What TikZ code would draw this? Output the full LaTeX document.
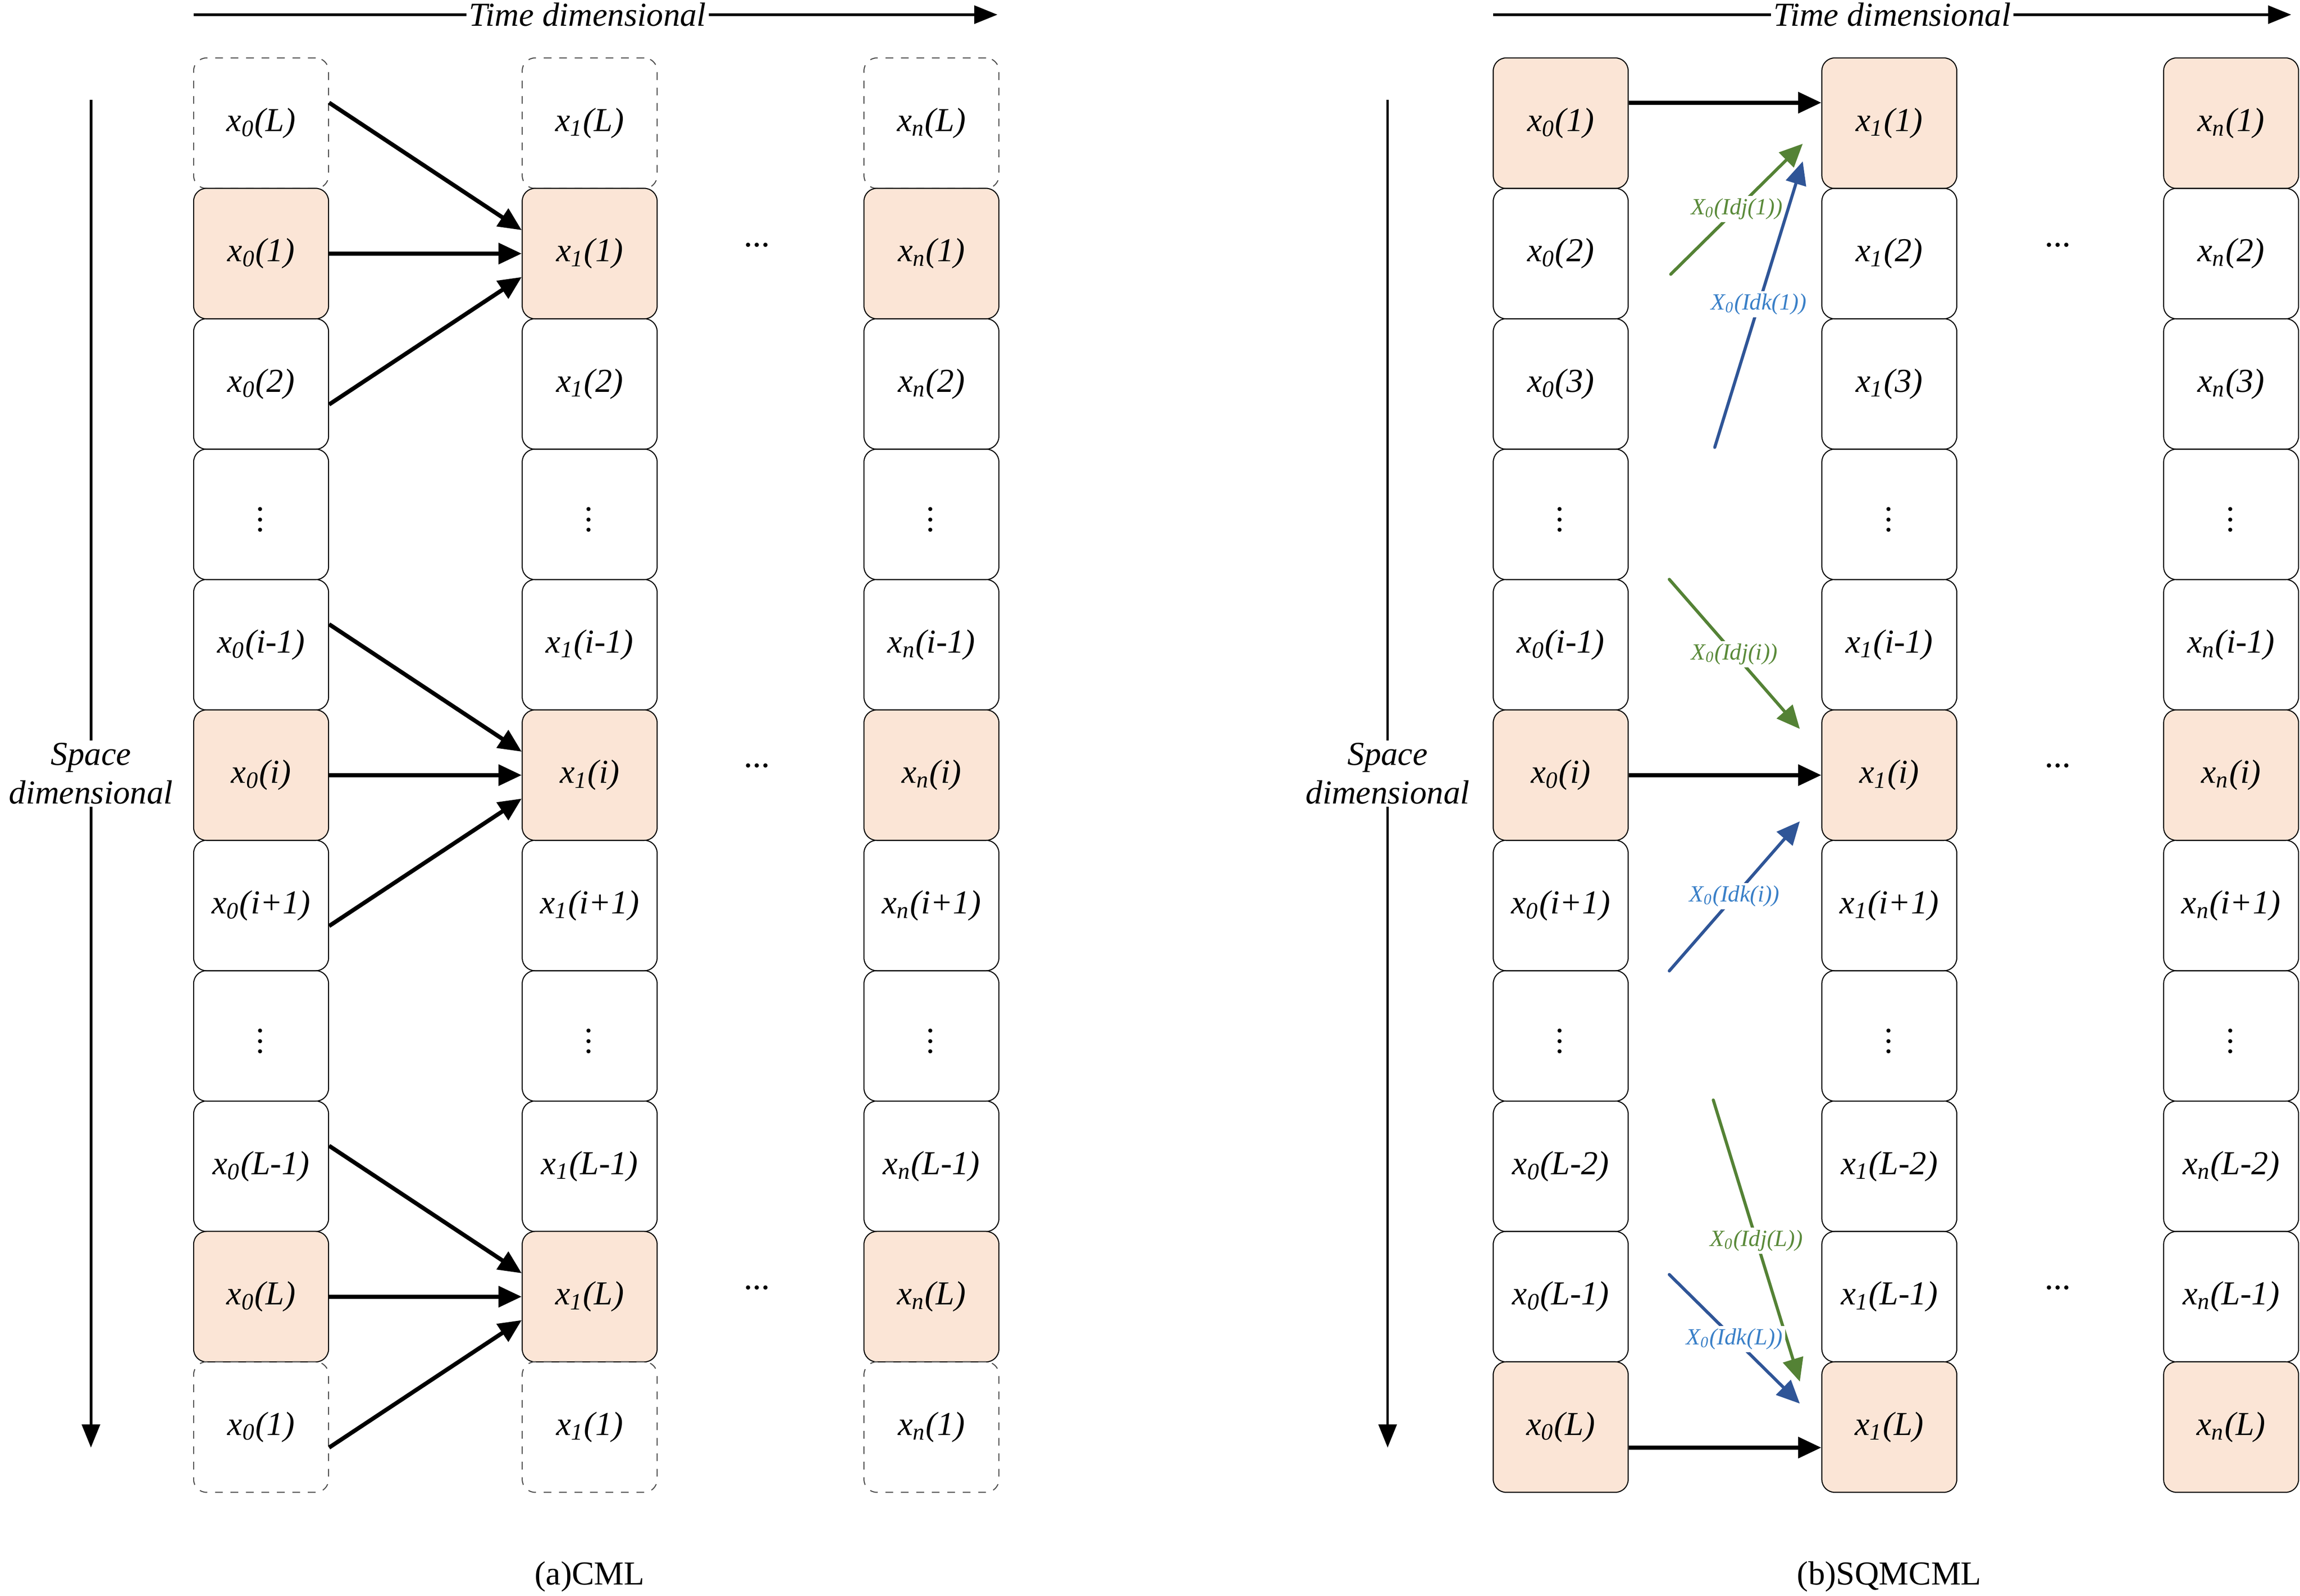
\documentclass[tikz,border=0pt]{standalone}
\usepackage{fontspec}
\setmainfont{Liberation Serif}
\usetikzlibrary{arrows.meta}
\definecolor{cellfill}{HTML}{FBE5D6}
\definecolor{gline}{HTML}{548235}
\definecolor{gtext}{HTML}{5A8A3A}
\definecolor{bline}{HTML}{2F5597}
\definecolor{btext}{HTML}{3A80C8}
\tikzset{
  cell/.style={draw,rounded corners=5pt,minimum width=1.84cm,minimum height=1.78cm,
    inner sep=0pt,font=\fontsize{13}{15}\selectfont\itshape},
  ghost/.style={cell,dashed,draw=black!70},
  hot/.style={cell,fill=cellfill},
  plain/.style={cell},
  link/.style={line width=1.6pt,-{Triangle[length=9pt,width=8pt]}},
  lab/.style={font=\fontsize{9}{10}\selectfont\itshape,fill=white,inner sep=1pt},
  axis/.style={line width=1pt,-{Triangle[length=9pt,width=7pt]}},
  axlab/.style={font=\fontsize{13}{15}\selectfont\itshape,fill=white,inner sep=1pt,align=center}
}
\def\dd{D}
\begin{document}
\begin{tikzpicture}[x=0.02cm,y=-0.02cm]
  \useasboundingbox (0,0) rectangle (1568,1088);
  % (a) CML
  \foreach \c/\s/\x in {0/0/178,1/1/402,2/n/635}{
    \foreach \t [count=\r from 0] in {L,1,2,D,i-1,i,i+1,D,L-1,L,1}{
      \ifnum\r=0 \def\sty{ghost}\else\ifnum\r=10 \def\sty{ghost}\else
      \ifnum\r=1 \def\sty{hot}\else\ifnum\r=5 \def\sty{hot}\else
      \ifnum\r=9 \def\sty{hot}\else\def\sty{plain}\fi\fi\fi\fi\fi
      \node[\sty] (A\c-\r) at (\x,{84+88.9*\r})
        {\ifx\t\dd\raisebox{2pt}{$\vdots$}\else x\textsubscript{\s}(\t)\fi};
    }
  }
  \foreach \m in {1,5,9}{
    \pgfmathtruncatemacro\u{\m-1}
    \pgfmathtruncatemacro\v{\m+1}
    \draw[link] ([yshift=0.28cm]A0-\u.east) -- ([yshift=0.32cm]A1-\m.west);
    \draw[link] (A0-\m.east) -- (A1-\m.west);
    \draw[link] ([yshift=-0.28cm]A0-\v.east) -- ([yshift=-0.32cm]A1-\m.west);
  }
  \foreach \y/\n in {167/1,522/2,878/3}
    \node[font=\bfseries] (ha\n) at (516,\y) {\dots};
  % (b) SQMCML
  \foreach \c/\s/\x in {0/0/1064,1/1/1288,2/n/1521}{
    \foreach \t [count=\r from 0] in {1,2,3,D,i-1,i,i+1,D,L-2,L-1,L}{
      \ifnum\r=0 \def\sty{hot}\else\ifnum\r=5 \def\sty{hot}\else
      \ifnum\r=10 \def\sty{hot}\else\def\sty{plain}\fi\fi\fi
      \node[\sty] (B\c-\r) at (\x,{84+88.9*\r})
        {\ifx\t\dd\raisebox{2pt}{$\vdots$}\else x\textsubscript{\s}(\t)\fi};
    }
  }
  \draw[link] ([yshift=0.28cm]B0-0.east) -- ([yshift=0.28cm]B1-0.west);
  \draw[link] (B0-5.east) -- (B1-5.west);
  \draw[link] ([yshift=-0.28cm]B0-10.east) -- ([yshift=-0.28cm]B1-10.west);
  \foreach \y/\n in {167/1,522/2,878/3}
    \node[font=\bfseries] (hb\n) at (1403,\y) {\dots};
  \coordinate (gj1) at (1139,187); \coordinate (gt1) at (1229,98);
  \coordinate (bk1) at (1169,305); \coordinate (bt1) at (1229,110);
  \coordinate (gji) at (1138,395); \coordinate (gti) at (1227,497);
  \coordinate (bki) at (1138,662); \coordinate (bti) at (1227,560);
  \coordinate (gjL) at (1168,750); \coordinate (gtL) at (1227,942);
  \coordinate (bkL) at (1138,869); \coordinate (btL) at (1227,957);
  \draw[link,line width=1.2pt,gline,line cap=round] (gj1) -- (gt1)
    node[lab,text=gtext,pos=0.5] {X\textsubscript{0}(Idj(1))};
  \draw[link,line width=1.2pt,bline,line cap=round] (bk1) -- (bt1)
    node[lab,text=btext,pos=0.5] {X\textsubscript{0}(Idk(1))};
  \draw[link,line width=1.2pt,gline,line cap=round] (gji) -- (gti)
    node[lab,text=gtext,pos=0.5] {X\textsubscript{0}(Idj(i))};
  \draw[link,line width=1.2pt,bline,line cap=round] (bki) -- (bti)
    node[lab,text=btext,pos=0.5] {X\textsubscript{0}(Idk(i))};
  \draw[link,line width=1.2pt,gline,line cap=round] (gjL) -- (gtL)
    node[lab,text=gtext,pos=0.5] {X\textsubscript{0}(Idj(L))};
  \draw[link,line width=1.2pt,bline,line cap=round] (bkL) -- (btL)
    node[lab,text=btext,pos=0.5] {X\textsubscript{0}(Idk(L))};
  % axes
  \coordinate (ta0) at (132,10); \coordinate (ta1) at (680,10);
  \coordinate (tb0) at (1018,10); \coordinate (tb1) at (1562,10);
  \coordinate (sa0) at (62,68); \coordinate (sa1) at (62,987);
  \coordinate (sb0) at (946,68); \coordinate (sb1) at (946,987);
  \draw[axis] (ta0) -- (ta1) node[axlab,pos=0.49] {Time dimensional};
  \draw[axis] (tb0) -- (tb1) node[axlab,pos=0.5] {Time dimensional};
  \draw[axis] (sa0) -- (sa1) node[axlab,pos=0.50] {Space\\dimensional};
  \draw[axis] (sb0) -- (sb1) node[axlab,pos=0.50] {Space\\dimensional};
  \node[font=\fontsize{13}{15}\selectfont] (capa) at (402,1075) {(a)CML};
  \node[font=\fontsize{13}{15}\selectfont] (capb) at (1288,1075) {(b)SQMCML};
\end{tikzpicture}
\end{document}
